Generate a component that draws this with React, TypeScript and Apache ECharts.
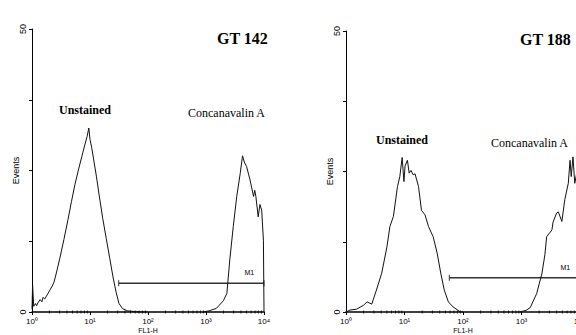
import React, { useEffect, useRef } from 'react';
import * as echarts from 'echarts';

// x values are in decades of FL1-H (0 = 10^0 ... 4 = 10^4), y values are events
const xTickLabels = ['10⁰', '10¹', '10²', '10³', '10⁴'];
const yLabelValues = [0, 50];

const gt142Unstained: [number, number][] = [
  [0.0, 0.5], [0.01, 4.8], [0.03, 1.0], [0.06, 1.5], [0.08, 1.1], [0.1, 1.6], [0.14, 2.2],
  [0.17, 1.8], [0.19, 2.6], [0.22, 2.3], [0.26, 3.0], [0.31, 3.9], [0.35, 4.6], [0.38, 5.3],
  [0.42, 6.9], [0.48, 9.5], [0.55, 12.8], [0.62, 16.3], [0.68, 19.5], [0.74, 22.5],
  [0.8, 25.1], [0.86, 27.5], [0.91, 29.5], [0.95, 31.0], [0.98, 32.5], [1.0, 30.5],
  [1.03, 29.0], [1.07, 26.5], [1.11, 24.0], [1.16, 20.5], [1.22, 16.5], [1.28, 13.0],
  [1.34, 9.5], [1.4, 6.0], [1.45, 3.5], [1.5, 1.5], [1.56, 0.6], [1.65, 0.2], [1.75, 0.1],
  [1.85, 0.0], [2.0, 0.0],
];

const gt142ConA: [number, number][] = [
  [2.95, 0.0], [3.05, 0.2], [3.18, 0.65], [3.3, 2.0], [3.36, 3.3], [3.41, 9.2], [3.47, 15.1],
  [3.53, 20.4], [3.59, 24.5], [3.63, 27.6], [3.66, 26.5], [3.7, 25.7], [3.76, 23.3],
  [3.82, 20.4], [3.84, 21.5], [3.86, 20.4], [3.9, 16.8], [3.93, 19.0], [3.96, 18.0],
  [3.99, 12.7], [4.0, 0.0],
];

const gt188Unstained: [number, number][] = [
  [0.0, 0.0], [0.07, 0.36], [0.18, 0.5], [0.3, 1.2], [0.36, 1.8], [0.44, 1.4], [0.52, 3.9],
  [0.61, 6.9], [0.7, 11.6], [0.75, 15.2], [0.81, 17.0], [0.88, 22.3], [0.92, 24.1],
  [0.96, 27.5], [0.99, 23.2], [1.01, 26.0], [1.05, 27.0], [1.08, 24.7], [1.11, 25.2],
  [1.15, 24.4], [1.18, 24.6], [1.24, 22.3], [1.29, 18.1], [1.35, 17.3], [1.41, 15.2],
  [1.49, 13.4], [1.56, 10.4], [1.62, 6.9], [1.68, 3.9], [1.75, 1.8], [1.83, 0.9],
  [1.95, 0.05], [2.0, 0.0],
];

const gt188ConA: [number, number][] = [
  [2.97, 0.0], [3.08, 0.3], [3.15, 0.8], [3.26, 3.3], [3.35, 6.9], [3.4, 10.2], [3.43, 13.4],
  [3.52, 14.6], [3.54, 16.0], [3.6, 17.6], [3.63, 17.8], [3.69, 16.1], [3.74, 20.0],
  [3.8, 22.9], [3.83, 27.0], [3.85, 24.1], [3.88, 27.6], [3.91, 22.9], [3.95, 25.0],
  [4.0, 20.0],
];

// M1 gate markers: [start decade, end decade, height]
const gt142Marker = [1.495, 4.0, 5.07];
const gt188Marker = [1.766, 4.0, 6.1];

// minor log ticks 2..9 within each decade
const minorMultipliers = [2, 3, 4, 5, 6, 7, 8, 9];
const decades = [0, 1, 2, 3];

export default function App() {
  const ref = useRef<HTMLDivElement>(null);

  useEffect(() => {
    const chart = echarts.init(ref.current!, null, { renderer: 'svg' });

    const minorTicks: [number, number][] = [];
    decades.forEach((d) => minorMultipliers.forEach((m) => minorTicks.push([d + Math.log10(m), 0])));

    const sans = '"Liberation Sans", Arial, sans-serif';
    const serif = '"Liberation Serif", "Times New Roman", serif';

    const makeX = (gridIndex: number) => ({
      type: 'value',
      gridIndex,
      min: 0,
      max: 4,
      interval: 1,
      axisLine: { show: true, lineStyle: { color: '#000', width: 1.5 } },
      axisTick: { show: true, length: 3, lineStyle: { color: '#000' } },
      axisLabel: {
        fontSize: 8,
        color: '#000',
        margin: 5,
        fontFamily: sans,
        formatter: (v: number) => xTickLabels[Math.round(v)] ?? '',
      },
      splitLine: { show: false },
      name: 'FL1-H',
      nameLocation: 'middle',
      nameGap: 15,
      nameMoveOverlap: false,
      nameTextStyle: { fontSize: 7, color: '#000', fontFamily: sans },
    });

    const makeY = (gridIndex: number) => ({
      type: 'value',
      gridIndex,
      min: 0,
      max: 50,
      interval: 12.5,
      axisLine: { show: true, lineStyle: { color: '#000', width: 1 } },
      axisTick: { show: true, length: 3, lineStyle: { color: '#000' } },
      axisLabel: {
        rotate: 90,
        fontSize: 9,
        color: '#000',
        margin: 5,
        fontFamily: sans,
        formatter: (v: number) => (yLabelValues.includes(v) ? String(v) : ''),
      },
      splitLine: { show: false },
      name: 'Events',
      nameLocation: 'middle',
      nameRotate: 90,
      nameGap: 12,
      nameMoveOverlap: false,
      nameTextStyle: { fontSize: 9, color: '#000', fontFamily: sans },
    });

    const histo = (data: [number, number][], idx: number) => ({
      type: 'line',
      xAxisIndex: idx,
      yAxisIndex: idx,
      data,
      showSymbol: false,
      symbol: 'none',
      lineStyle: { color: '#111', width: 1 },
      z: 3,
    });

    const marker = (m: number[], idx: number) => ({
      type: 'line',
      xAxisIndex: idx,
      yAxisIndex: idx,
      data: [
        [m[0], m[2]],
        {
          value: [m[1], m[2]],
          label: {
            show: true,
            formatter: 'M1',
            position: [-19, -11],
            fontSize: 7,
            color: '#000',
            fontFamily: sans,
          },
        },
      ],
      symbol: 'rect',
      symbolSize: [1, 6],
      showSymbol: true,
      itemStyle: { color: '#333' },
      lineStyle: { color: '#333', width: 1.5 },
      z: 2,
    });

    const minor = (idx: number) => ({
      type: 'scatter',
      xAxisIndex: idx,
      yAxisIndex: idx,
      data: minorTicks,
      symbol: 'rect',
      symbolSize: [1, 3],
      itemStyle: { color: '#000' },
      silent: true,
      clip: false,
      z: 4,
    });

    const text = (t: string, x: number, y: number, font: string) => ({
      type: 'text',
      x,
      y,
      style: { text: t, fill: '#000', font, align: 'left', verticalAlign: 'middle' },
    });

    chart.setOption({
      animation: false,
      backgroundColor: '#fff',
      grid: [
        { left: 32, top: 29, width: 232, height: 283, outerBoundsMode: 'none', containLabel: false },
        { left: 346, top: 31, width: 234, height: 281, outerBoundsMode: 'none', containLabel: false },
      ],
      xAxis: [makeX(0), makeX(1)],
      yAxis: [makeY(0), makeY(1)],
      series: [
        histo(gt142Unstained, 0),
        histo(gt142ConA, 0),
        marker(gt142Marker, 0),
        minor(0),
        histo(gt188Unstained, 1),
        histo(gt188ConA, 1),
        marker(gt188Marker, 1),
        minor(1),
      ],
      graphic: [
        text('GT 142', 217, 38, `bold 16px ${serif}`),
        text('GT 188', 520, 39, `bold 16px ${serif}`),
        text('Unstained', 59, 110, `bold 12px ${serif}`),
        text('Concanavalin A', 188, 113, `12px ${serif}`),
        text('Unstained', 376, 140, `bold 12px ${serif}`),
        text('Concanavalin A', 491, 143, `12px ${serif}`),
      ],
    });

    return () => chart.dispose();
  }, []);

  return (
    <div
      style={{
        position: 'fixed',
        left: 0,
        top: 0,
        width: 576,
        height: 335,
        overflow: 'hidden',
        background: '#fff',
      }}
    >
      <div ref={ref} style={{ width: 600, height: 335 }} />
    </div>
  );
}
